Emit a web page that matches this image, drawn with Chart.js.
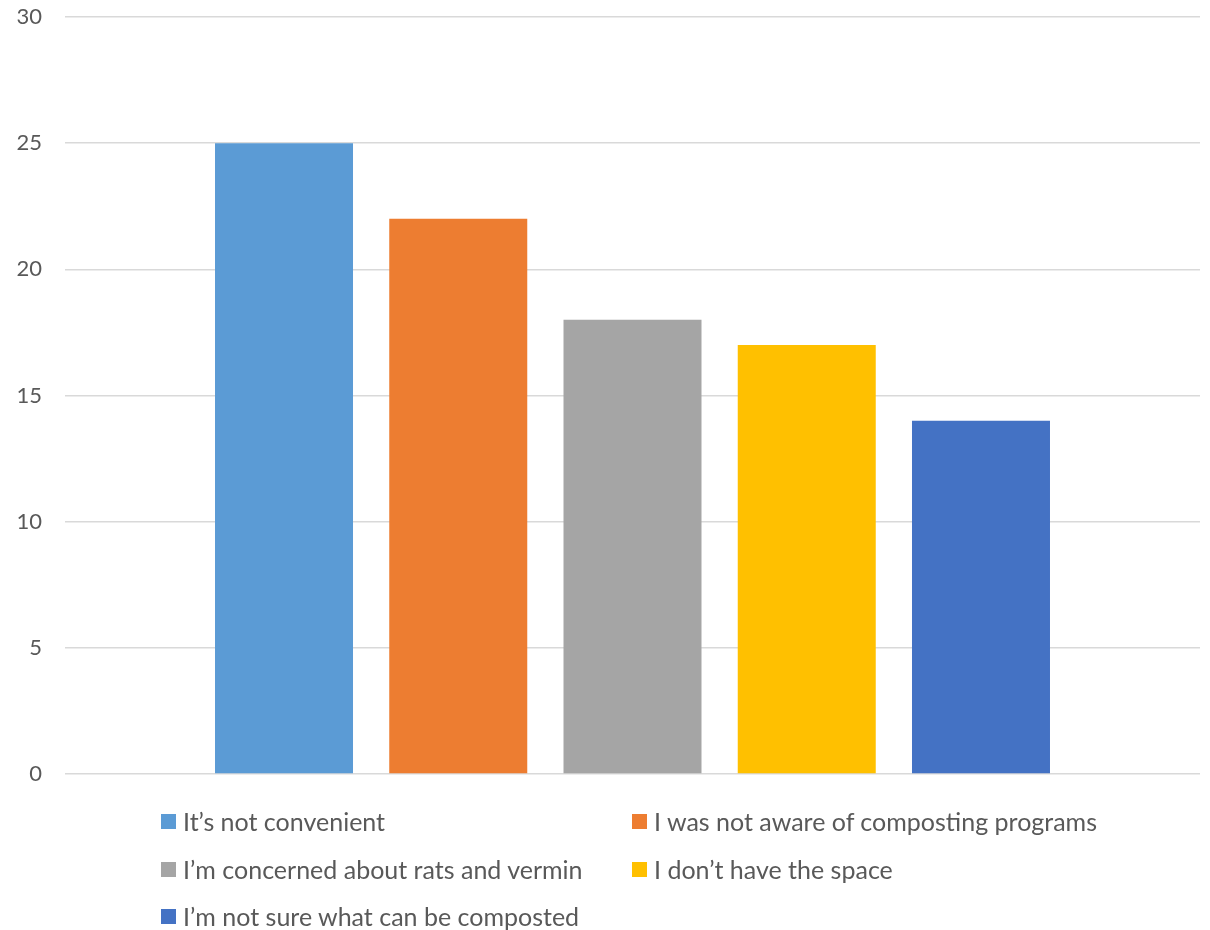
<!DOCTYPE html>
<html>
<head>
<meta charset="utf-8">
<script src="https://cdn.jsdelivr.net/npm/chart.js@4/dist/chart.umd.min.js"></script>
<style>
  html, body { margin: 0; padding: 0; background: #fff; }
  #wrap { position: relative; width: 1210px; height: 930px; overflow: hidden; }
  #c { position: absolute; left: 0; top: 0; }
  .leg { position: absolute; display: flex; align-items: center; font-family: "Lato", "Open Sans", sans-serif; font-size: 25px; color: #595959; white-space: nowrap; }
  .leg .sw { width: 15px; height: 15px; margin-right: 7px; flex: none; }
</style>
</head>
<body>
<div id="wrap">
  <canvas id="c" width="1210" height="930"></canvas>
</div>
<script>
const categories = ['Reasons for not composting'];
const seriesNames = [
  'It\u2019s not convenient',
  'I was not aware of composting programs',
  'I\u2019m concerned about rats and vermin',
  'I don\u2019t have the space',
  'I\u2019m not sure what can be composted'
];
const seriesValues = [25, 22, 18, 17, 14];
const seriesColors = ['#5B9BD5', '#ED7D31', '#A5A5A5', '#FFC000', '#4472C4'];
const yTicks = [0, 5, 10, 15, 20, 25, 30];

const datasets = seriesNames.map((name, i) => ({
  label: name,
  data: [seriesValues[i]],
  backgroundColor: seriesColors[i],
  borderWidth: 0,
  categoryPercentage: 0.7676,
  barPercentage: 0.792
}));

new Chart(document.getElementById('c'), {
  type: 'bar',
  data: { labels: categories, datasets },
  options: {
    responsive: false,
    devicePixelRatio: 1,
    animation: false,
    layout: { padding: { top: 17, bottom: 156, left: 0, right: 10 } },
    plugins: { legend: { display: false }, tooltip: { enabled: false } },
    scales: {
      x: { display: false },
      y: {
        min: 0, max: 30,
        afterFit: s => { s.width = 65; s.paddingTop = 0; s.paddingBottom = 0; },
        afterBuildTicks: s => { s.ticks = yTicks.map(v => ({ value: v })); },
        border: { display: false },
        grid: { color: '#d9d9d9', lineWidth: 1.5, drawTicks: false },
        ticks: { padding: 23, color: '#595959', font: { family: 'Lato', size: 22 } }
      }
    }
  }
});

// HTML legend in two columns, as in the reference
const legPos = [[161, 822], [632, 822], [161, 870], [632, 870], [161, 917]];
const wrap = document.getElementById('wrap');
seriesNames.forEach((name, i) => {
  const d = document.createElement('div');
  d.className = 'leg';
  d.style.left = legPos[i][0] + 'px';
  d.style.top = (legPos[i][1] - 16) + 'px';
  d.style.height = '30px';
  const sw = document.createElement('span');
  sw.className = 'sw';
  sw.style.background = seriesColors[i];
  const t = document.createElement('span');
  t.textContent = name;
  d.appendChild(sw); d.appendChild(t);
  wrap.appendChild(d);
});
</script>
</body>
</html>
